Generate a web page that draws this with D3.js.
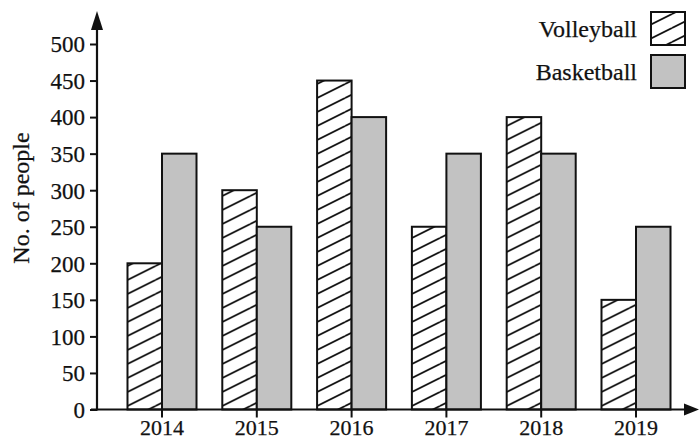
<!DOCTYPE html>
<html><head><meta charset="utf-8">
<script src="https://cdn.jsdelivr.net/npm/d3@7"></script>
<style>
html,body{margin:0;padding:0;background:#fff;}
text{font-family:"Liberation Serif","DejaVu Serif",serif;fill:#111;stroke:#111;stroke-width:0.25px;}
</style></head>
<body>
<svg id="chart" width="699" height="439"></svg>
<script>
const years = ["2014","2015","2016","2017","2018","2019"];
const volleyball = [200,300,450,250,400,150];
const basketball = [350,250,400,350,350,250];
const yTicks = [0,50,100,150,200,250,300,350,400,450,500];
const seriesNames = ["Volleyball","Basketball"];

const svg = d3.select("#chart");
const defs = svg.append("defs");
const pat = defs.append("pattern").attr("id","hatch")
  .attr("patternUnits","userSpaceOnUse").attr("width",28).attr("height",14);
pat.append("rect").attr("width",28).attr("height",14).attr("fill","#fff");
[[-28,14],[0,14],[0,28],[0,0]].forEach(([ox,oy])=>{
  pat.append("line").attr("x1",ox).attr("y1",oy).attr("x2",ox+28).attr("y2",oy-14)
    .attr("stroke","#111").attr("stroke-width",1.8);
});

const x0 = d3.scaleBand().domain(years).range([114.6,683.4]).paddingInner(0.272).paddingOuter(0.136);
const x1 = d3.scaleBand().domain(seriesNames).range([0,x0.bandwidth()]);
const y = d3.scaleLinear().domain([0,500]).range([409.5,44]);

const fills = {Volleyball:"url(#hatch)", Basketball:"#c2c2c2"};
const data = years.map((yr,i)=>({year:yr, values:[
  {name:"Volleyball", v:volleyball[i]},{name:"Basketball", v:basketball[i]}]}));

const g = svg.append("g");
g.selectAll("g.grp").data(data).join("g").attr("class","grp")
  .attr("transform",d=>`translate(${x0(d.year)},0)`)
  .selectAll("rect").data(d=>d.values).join("rect")
  .attr("x",d=>x1(d.name)).attr("width",x1.bandwidth())
  .attr("y",d=>y(d.v)).attr("height",d=>y(0)-y(d.v))
  .attr("fill",d=>fills[d.name]).attr("stroke","#111").attr("stroke-width",2);

// Y axis
const axisX = 97;
const yAxis = d3.axisLeft(y).tickValues(yTicks).tickSize(7).tickPadding(5).tickFormat(d3.format("d"));
const ya = svg.append("g").attr("transform",`translate(${axisX},0)`).call(yAxis);
ya.select(".domain").remove();
ya.selectAll(".tick line").attr("stroke","#111").attr("stroke-width",2);
ya.selectAll(".tick text").style("font-size","23px").attr("dy","0.34em");
svg.append("line").attr("x1",axisX).attr("x2",axisX).attr("y1",y(0)+1).attr("y2",24)
  .attr("stroke","#111").attr("stroke-width",2.2);
svg.append("path").attr("d",`M${axisX},11 L${axisX-6},30 L${axisX+6},30 Z`).attr("fill","#111");

// X axis
const xAxis = d3.axisBottom(x0).tickSize(8).tickPadding(2);
const xa = svg.append("g").attr("transform",`translate(0,${y(0)})`).call(xAxis);
xa.select(".domain").remove();
xa.selectAll(".tick line").attr("stroke","#111").attr("stroke-width",2);
xa.selectAll(".tick text").style("font-size","22px");
svg.append("line").attr("x1",axisX-6).attr("x2",690).attr("y1",y(0)).attr("y2",y(0))
  .attr("stroke","#111").attr("stroke-width",2.2);
svg.append("path").attr("d",`M699,${y(0)} L684,${y(0)-6} L684,${y(0)+6} Z`).attr("fill","#111");

// Y label
svg.append("text").attr("transform","translate(29,198) rotate(-90)")
  .attr("text-anchor","middle").style("font-size","24px").text("No. of people");

// Legend
const leg = svg.append("g");
const legY = [12,55];
seriesNames.forEach((n,i)=>{
  leg.append("rect").attr("x",651).attr("y",legY[i]).attr("width",34).attr("height",33)
    .attr("fill",fills[n]).attr("stroke","#111").attr("stroke-width",2);
  leg.append("text").attr("x",637).attr("y",legY[i]+25).attr("text-anchor","end")
    .style("font-size","24px").text(n);
});
</script>
</body></html>
